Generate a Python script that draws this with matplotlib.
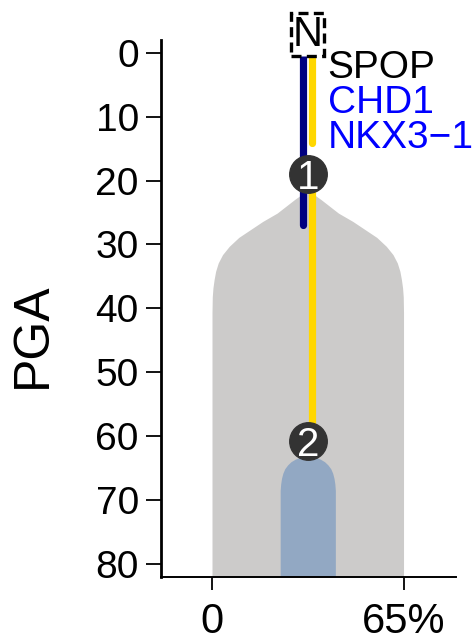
import matplotlib
matplotlib.use('Agg')
import matplotlib.pyplot as plt
import numpy as np

plt.rcParams['font.family'] = ['Liberation Sans', 'DejaVu Sans']

# clone 1 (grey) outline: depth (PGA) vs fraction of full width
clone1_depth = [21.5, 23.0, 25.1, 26.4, 27.7, 28.9, 30.3, 31.6, 32.9, 34.2, 35.5, 36.8, 38.2, 40.7, 82.0]
clone1_frac = [0.0, 0.14, 0.32, 0.47, 0.60, 0.72, 0.82, 0.89, 0.935, 0.962, 0.978, 0.99, 0.997, 1.0, 1.0]

# clone 2 (blue) outline
clone2_depth = [63.1, 63.3, 63.6, 64.0, 64.5, 65.1, 65.8, 66.6, 67.5, 68.5, 82.0]
clone2_frac = [0.0, 0.08, 0.13, 0.175, 0.21, 0.24, 0.26, 0.274, 0.283, 0.288, 0.288]

max_pct = 65
center = max_pct / 2

# driver branches: (x, start, end, colour)
branches = [
    (31.0, 0.0, 27.0, '#000080'),
    (33.9, 0.0, 14.2, '#ffd700'),
    (33.9, 19.0, 60.8, '#ffd700'),
]

# clone nodes
node_labels = ['1', '2']
node_depth = [19.0, 60.8]

genes = ['SPOP', 'CHD1', 'NKX3\u22121']
gene_colors = ['black', '#0000ff', '#0000ff']
gene_depth = [2.4, 7.9, 13.4]

fig = plt.figure(figsize=(4.74, 6.44), dpi=100)
ax = fig.add_axes([0.3397, 0.1045, 0.6223, 0.8335])

# grey clone body
d1 = np.array(clone1_depth)
w1 = np.array(clone1_frac) * max_pct / 2
ax.fill_betweenx(d1, center - w1, center + w1, color='#cccbca', lw=0, zorder=1)

# blue sub clone
d2 = np.array(clone2_depth)
w2 = np.array(clone2_frac) * max_pct / 2
ax.fill_betweenx(d2, center - w2, center + w2, color='#92a8c3', lw=0, zorder=2)

for x, y0, y1, c in branches:
    ax.plot([x, x], [y0, y1], color=c, lw=5.2, solid_capstyle='round', zorder=3)

for lab, d in zip(node_labels, node_depth):
    ax.plot(center, d, 'o', ms=27, color='#333333', zorder=4)
    ax.text(center, d, lab, color='white', fontsize=29, ha='center', va='center_baseline', zorder=5)

for g, c, d in zip(genes, gene_colors, gene_depth):
    ax.text(39.2, d, g, color=c, fontsize=28, ha='left', va='center')

ax.text(center, -2.8, 'N', fontsize=30, ha='center', va='center', clip_on=False,
        bbox=dict(boxstyle='square,pad=0.04', fc='white', ec='black', lw=2.4, ls=(0, (3, 1.6))))

ax.set_xlim(-17.3, 82.8)
ax.set_ylim(82.0, -2.0)
ax.set_yticks(np.arange(0, 81, 10))
ax.set_xticks([0, 65])
ax.set_xticklabels(['0', '65%'])
ax.set_ylabel('PGA', fontsize=36)
ax.yaxis.set_label_coords(-0.355, 0.45)

ax.spines['top'].set_visible(False)
ax.spines['right'].set_visible(False)
ax.spines['left'].set_linewidth(2.0)
ax.spines['bottom'].set_linewidth(1.4)
ax.tick_params(axis='y', length=11, width=1.3, labelsize=28, pad=5)
ax.tick_params(axis='x', length=9.5, width=1.3, labelsize=30, pad=9)

fig.savefig('out.png', dpi=100)
